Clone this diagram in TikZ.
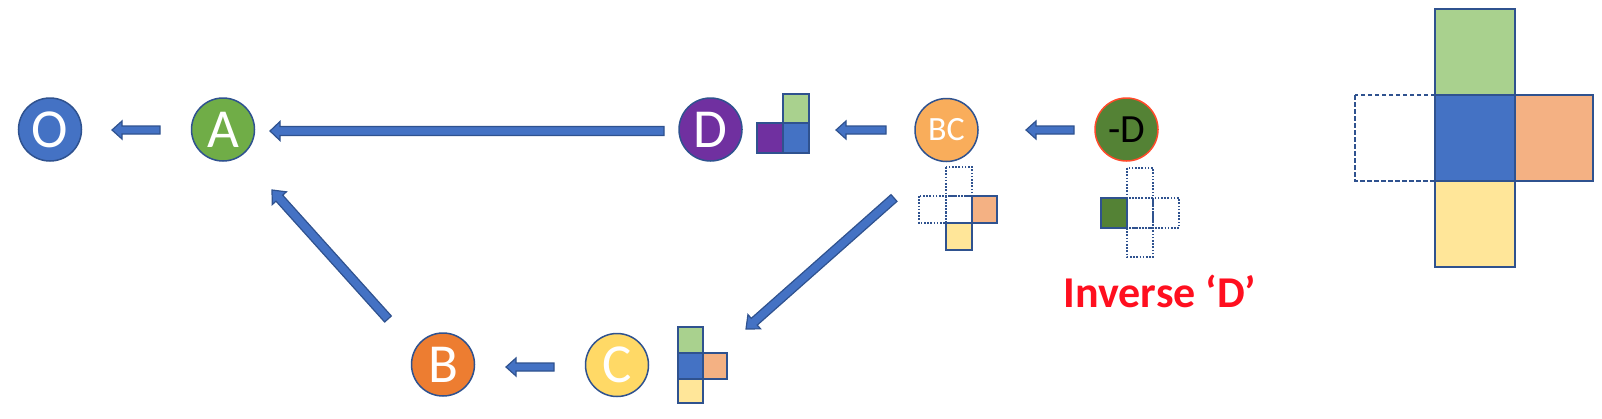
\documentclass[tikz,border=0pt]{standalone}
\usepackage{fontspec}
\setmainfont{Carlito}
\usetikzlibrary{calc}
\definecolor{edgeblue}{HTML}{2F528F}
\definecolor{cblue}{HTML}{4472C4}
\definecolor{cgreen}{HTML}{70AD47}
\definecolor{cpurple}{HTML}{7030A0}
\definecolor{cbc}{HTML}{F9AD5B}
\definecolor{corange}{HTML}{ED7D31}
\definecolor{cyellow}{HTML}{FFD966}
\definecolor{cdkgreen}{HTML}{548235}
\definecolor{cred}{HTML}{FF4A2A}
\definecolor{sqgreen}{HTML}{A9D18E}
\definecolor{sqorange}{HTML}{F4B183}
\definecolor{sqyellow}{HTML}{FFE699}
\definecolor{txtred}{HTML}{FF0F1F}
\newcommand{\blockarrow}[5]{%
  \coordinate (ba-h) at ($(#2)!#5!(#1)$);
  \draw[blockarr] ($(#1)!#3!90:(#2)$) -- ($(ba-h)!#3!90:(#2)$) -- ($(ba-h)!#4!90:(#2)$) -- (#2) -- ($(ba-h)!#4!-90:(#2)$) -- ($(ba-h)!#3!-90:(#2)$) -- ($(#1)!#3!-90:(#2)$) -- cycle;}
\tikzset{
  ball/.style={circle, draw=edgeblue, line width=1.5pt, minimum size=63pt, inner sep=0pt, text=white, font=\fontsize{55}{55}\selectfont},
  blockarr/.style={fill=cblue, draw=edgeblue, line width=1.2pt, line join=miter},
  sq/.style={draw=edgeblue, line width=1.8pt},
  dotsq/.style={draw=edgeblue, line width=1.6pt, dash pattern=on 1.6pt off 1.6pt},
  dashsq/.style={draw=edgeblue, line width=2pt, dash pattern=on 4.5pt off 2.5pt},
}
\begin{document}
\begin{tikzpicture}[x=1pt, y=-1pt]
\useasboundingbox (0,0) rectangle (1602,418);
% circles
\node[ball, fill=cblue] (O) at (50,129.5) {O};
\node[ball, fill=cgreen] (A) at (223,129.5) {A};
\node[ball, fill=cpurple] (D) at (710.5,129.5) {D};
\node[ball, fill=cbc, font=\fontsize{34}{34}\selectfont] (BC) at (946.5,130) {BC};
\node[ball, fill=cdkgreen, draw=cred, text=black, font=\fontsize{40}{40}\selectfont] (ND) at (1126.5,129.5) {-D};
\node[ball, fill=corange] (B) at (443,364.5) {B};
\node[ball, fill=cyellow] (C) at (617,365) {C};
% arrow end points
\coordinate (oa-t) at (160,130); \coordinate (oa-h) at (112,130);
\coordinate (ad-t) at (664,131); \coordinate (ad-h) at (270,131);
\coordinate (dbc-t) at (886,130); \coordinate (dbc-h) at (836,130);
\coordinate (bcn-t) at (1074,130); \coordinate (bcn-h) at (1026,130);
\coordinate (bc-t) at (554,367); \coordinate (bc-h) at (506,367);
\coordinate (ab-t) at (388,319); \coordinate (ab-h) at (272,190);
\coordinate (cbc-t) at (894,198); \coordinate (cbc-h) at (746,329);
\blockarrow{oa-t}{oa-h}{4pt}{9pt}{10pt}
\blockarrow{ad-t}{ad-h}{4.5pt}{9.5pt}{10pt}
\blockarrow{dbc-t}{dbc-h}{4pt}{9pt}{10pt}
\blockarrow{bcn-t}{bcn-h}{4pt}{9pt}{10pt}
\blockarrow{bc-t}{bc-h}{4pt}{9pt}{10pt}
\blockarrow{ab-t}{ab-h}{4.5pt}{9.5pt}{11pt}
\blockarrow{cbc-t}{cbc-h}{4.5pt}{9.5pt}{11pt}
% D squares
\draw[sq, fill=sqgreen] (783,94) rectangle (809,123);
\draw[sq, fill=cpurple] (757,123) rectangle (783,153);
\draw[sq, fill=cblue] (783,123) rectangle (809,153);
% BC cross
\draw[dotsq] (946,167) rectangle (972,196);
\draw[dotsq] (919,196) rectangle (946,223);
\draw[dotsq] (946,196) rectangle (972,223);
\draw[sq, fill=sqorange] (972,196) rectangle (997,223);
\draw[sq, fill=sqyellow] (946,223) rectangle (972,250);
% -D cross
\draw[dotsq] (1127,168) rectangle (1153,198);
\draw[dotsq] (1127,198) rectangle (1153,228);
\draw[dotsq] (1153,198) rectangle (1179,228);
\draw[dotsq] (1127,228) rectangle (1153,257);
\draw[sq, fill=cdkgreen] (1101,198) rectangle (1127,228);
% C cross
\draw[sq, fill=sqgreen] (678,327) rectangle (703,353);
\draw[sq, fill=cblue] (678,353) rectangle (703,379);
\draw[sq, fill=sqorange] (703,353) rectangle (727,379);
\draw[sq, fill=sqyellow] (678,379) rectangle (703,403);
% big cross
\draw[dashsq] (1355,95) rectangle (1435,181);
\draw[sq, line width=2pt, fill=sqgreen] (1435,9) rectangle (1515,95);
\draw[sq, line width=2pt, fill=cblue] (1435,95) rectangle (1515,181);
\draw[sq, line width=2pt, fill=sqorange] (1515,95) rectangle (1593,181);
\draw[sq, line width=2pt, fill=sqyellow] (1435,181) rectangle (1515,267);
% label
\node[anchor=base, text=txtred, font=\bfseries\fontsize{44}{44}\selectfont, inner sep=0pt] (lbl) at (1160,307) {Inverse `D'};
\end{tikzpicture}
\end{document}
